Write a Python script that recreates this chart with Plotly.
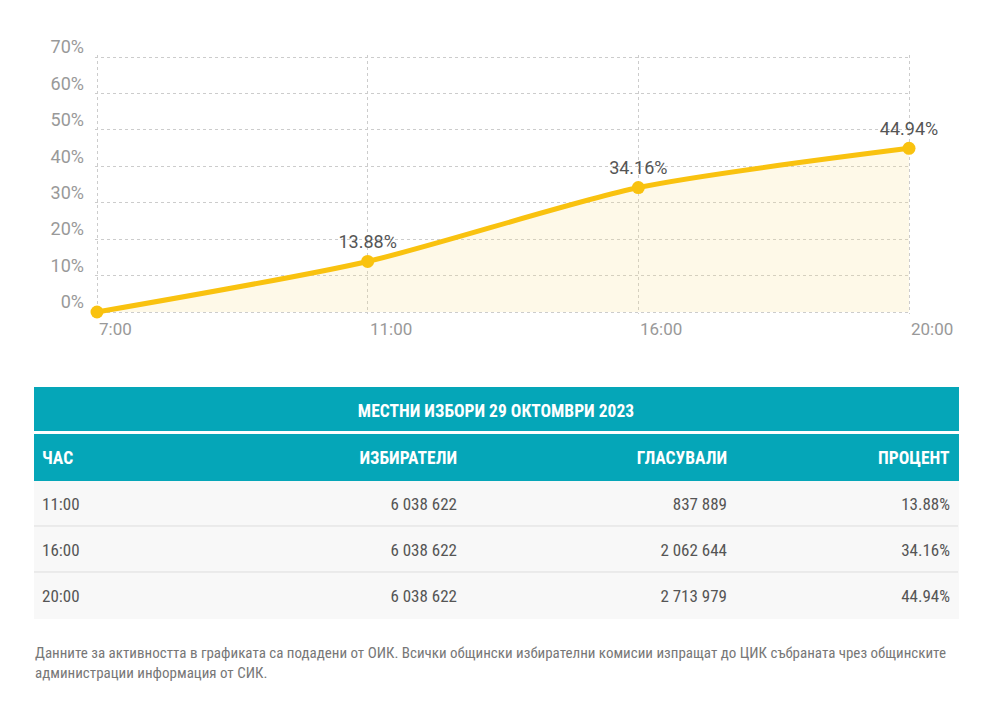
import plotly.graph_objects as go

FONT = "Roboto, sans-serif"
TFONT = "Roboto Condensed, Liberation Sans Narrow, DejaVu Sans Condensed, Roboto, sans-serif"

hours = ["7:00", "11:00", "16:00", "20:00"]
turnout = [0, 13.88, 34.16, 44.94]
point_labels = ["", "13.88%", "34.16%", "44.94%"]
y_ticks = [0, 10, 20, 30, 40, 50, 60, 70]
y_tick_text = ["0%", "10%", "20%", "30%", "40%", "50%", "60%", "70%"]

table_title = "МЕСТНИ ИЗБОРИ 29 ОКТОМВРИ 2023"
col_names = ["ЧАС", "ИЗБИРАТЕЛИ", "ГЛАСУВАЛИ", "ПРОЦЕНТ"]
row_hours = ["11:00", "16:00", "20:00"]
voters = ["6 038 622", "6 038 622", "6 038 622"]
voted = ["837 889", "2 062 644", "2 713 979"]
percent = ["13.88%", "34.16%", "44.94%"]

note = ("Данните за активността в графиката са подадени от ОИК. Всички общински избирателни комисии "
        "изпращат до ЦИК събраната чрез общинските<br>администрации информация от СИК.")

# the page body has an 8px margin, so the figure is sized to fit inside it
OFF = 8
W, H = 987 - 2 * OFF, 719 - 2 * OFF
teal = "#05A6B8"
yellow = "#F9C20F"
clear = "rgba(0,0,0,0)"
col_w = [200, 231, 270, 223]
col_align = ["left", "right", "right", "right"]

# plot box in page pixels, widened by PAD so plotly keeps the edge grid lines
X0, X1, Y0, Y1 = 97, 909, 312, 57
PAD = 2
xpad = 3 * PAD / (X1 - X0)
ypad = 70 * PAD / (Y0 - Y1)


def px_x(v):
    return (v - OFF) / W


def px_y(v):
    return 1 - (v - OFF) / H


def tdomain(top, bottom):
    return dict(x=[px_x(34), px_x(958)], y=[px_y(bottom), px_y(top)])


fig = go.Figure()

fig.add_trace(go.Scatter(
    x=hours, y=turnout, mode="lines+markers+text",
    line=dict(color=yellow, width=5, shape="spline", smoothing=0.7),
    marker=dict(size=13, color=yellow),
    fill="tozeroy", fillcolor="rgba(249,226,140,0.2)",
    text=point_labels, textposition="top center",
    textfont=dict(family=FONT, size=18, color="#555"),
    cliponaxis=False, hoverinfo="skip", showlegend=False,
))

# hour labels sit to the right of each tick
for h in hours:
    fig.add_annotation(x=h, y=px_y(329), xref="x", yref="paper", text=h,
                       showarrow=False, xanchor="left", yanchor="middle",
                       font=dict(family=FONT, size=17, color="#999"))

# table backgrounds
fig.add_trace(go.Table(
    domain=tdomain(387, 432),
    header=dict(values=[""], fill_color=teal, line_color=teal, height=44),
    cells=dict(values=[[]]),
))
fig.add_trace(go.Table(
    domain=tdomain(434, 620), columnwidth=col_w,
    header=dict(values=[""] * 4, fill_color=teal, line_color=teal, height=46),
    cells=dict(values=[[""] * 3] * 4, fill_color="#F8F8F8",
               line_color="#F8F8F8", height=46),
))

# table texts, laid over the backgrounds a few px lower
fig.add_trace(go.Table(
    domain=tdomain(393, 440),
    header=dict(values=["<b>" + table_title + "</b>"], fill_color=clear,
                line_color=clear, height=44, align="center",
                font=dict(family=TFONT, size=17.5, color="white")),
    cells=dict(values=[[]]),
))
fig.add_trace(go.Table(
    domain=tdomain(440, 490), columnwidth=col_w,
    header=dict(values=["<b>" + c + "</b>" for c in col_names], fill_color=clear,
                line_color=clear, height=46, align=col_align,
                font=dict(family=TFONT, size=17.5, color="white")),
    cells=dict(values=[[]] * 4),
))
fig.add_trace(go.Table(
    domain=tdomain(443, 630), columnwidth=col_w,
    header=dict(values=[""] * 4, fill_color=clear, line_color=clear, height=46),
    cells=dict(values=[row_hours, voters, voted, percent], fill_color=clear,
               line_color=clear, height=46, align=col_align,
               font=dict(family=TFONT, size=17, color="#555")),
))

# horizontal row separators (the table draws no vertical rules)
for sep in [526, 572]:
    fig.add_shape(type="line", xref="paper", yref="paper",
                  x0=px_x(34), x1=px_x(958), y0=px_y(sep), y1=px_y(sep),
                  line=dict(color="#DDDDDD", width=1))

fig.add_annotation(x=px_x(33), y=px_y(642), xref="paper", yref="paper", text=note,
                   showarrow=False, xanchor="left", yanchor="top", align="left",
                   font=dict(family=TFONT, size=15, color="#777"))

fig.update_layout(
    width=W, height=H, autosize=False,
    margin=dict(l=0, r=0, t=0, b=0, pad=0, autoexpand=False),
    paper_bgcolor="white", plot_bgcolor="white",
    xaxis=dict(domain=[px_x(X0 - PAD), px_x(X1 + PAD)], range=[-xpad, 3 + xpad],
               showticklabels=False,
               showgrid=True, gridcolor="#CCCCCC", griddash="dot", gridwidth=1,
               zeroline=False, showline=False, fixedrange=True, automargin=False),
    yaxis=dict(domain=[px_y(Y0 + PAD), px_y(Y1 - PAD)], range=[-ypad, 70 + ypad],
               tickvals=y_ticks, ticktext=y_tick_text, ticklabelshift=-10,
               ticklabelstandoff=10,
               tickfont=dict(family=FONT, size=18, color="#999"),
               showgrid=True, gridcolor="#CCCCCC", griddash="dot", gridwidth=1,
               zeroline=False, showline=False, fixedrange=True, automargin=False),
)

fig.write_html("out.html")
